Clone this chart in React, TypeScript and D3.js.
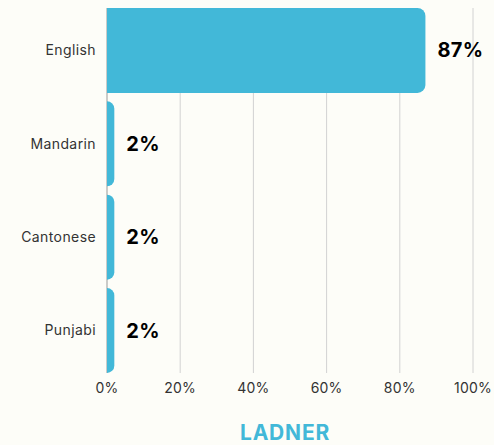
import React from 'react';
import * as d3 from 'd3';

const languages = ['English', 'Mandarin', 'Cantonese', 'Punjabi'];
const shares = [87, 2, 2, 2];
const ticks = [0, 20, 40, 60, 80, 100];
const title = 'LADNER';

const width = 494;
const height = 445;
const margin = { top: 8, right: 21, bottom: 72, left: 107 };
const barColor = '#42b8d8';
const font = 'Inter, "Open Sans", sans-serif';

function barPath(x0: number, y0: number, w: number, h: number, r: number) {
  const rr = Math.min(r, w, h / 2);
  const p = d3.path();
  p.moveTo(x0, y0);
  p.lineTo(x0 + w - rr, y0);
  p.arcTo(x0 + w, y0, x0 + w, y0 + rr, rr);
  p.lineTo(x0 + w, y0 + h - rr);
  p.arcTo(x0 + w, y0 + h, x0 + w - rr, y0 + h, rr);
  p.lineTo(x0, y0 + h);
  p.closePath();
  return p.toString();
}

export default function App() {
  const x = d3.scaleLinear().domain([0, 100]).range([margin.left, width - margin.right]);
  const y = d3
    .scaleBand<string>()
    .domain(languages)
    .range([margin.top, height - margin.bottom])
    .paddingInner(0.09)
    .paddingOuter(0.0);
  const [yTop, yBottom] = [margin.top, height - margin.bottom];

  return (
    <svg
      width={width}
      height={height}
      style={{ position: 'absolute', left: 0, top: 0, background: '#fdfdf8' }}
    >
      <rect width={width} height={height} fill="#fdfdf8" />
      {ticks.slice(1).map(t => (
        <line key={t} x1={x(t)} x2={x(t)} y1={yTop} y2={yBottom} stroke="#d2d2d2" strokeWidth={1} />
      ))}
      <line x1={x(0)} x2={x(0)} y1={yTop} y2={yBottom} stroke="#999" strokeWidth={1} />
      {languages.map((lang, i) => {
        const by = y(lang)!;
        const bw = x(shares[i]) - x(0);
        return (
          <g key={lang}>
            <path d={barPath(x(0), by, bw, y.bandwidth(), 8)} fill={barColor} />
            <text
              x={x(shares[i]) + 12}
              y={by + y.bandwidth() / 2}
              dy="0.35em"
              fontFamily={font}
              fontWeight={700}
              fontSize={20}
              letterSpacing={0.3}
              fill="#000"
            >
              {shares[i]}%
            </text>
            <text
              x={margin.left - 11}
              y={by + y.bandwidth() / 2}
              dy="0.35em"
              textAnchor="end"
              fontFamily={font}
              fontSize={14}
              letterSpacing={0.4}
              fill="#333"
            >
              {lang}
            </text>
          </g>
        );
      })}
      {ticks.map(t => (
        <text
          key={t}
          x={x(t)}
          y={yBottom + 15}
          dy="0.35em"
          textAnchor="middle"
          fontFamily={font}
          fontSize={14}
          letterSpacing={0.2}
          fill="#333"
        >
          {t}%
        </text>
      ))}
      <text
        x={(x(0) + x(100)) / 2 - 5}
        y={433}
        dy="0.35em"
        textAnchor="middle"
        fontFamily={font}
        fontWeight={700}
        fontSize={21}
        letterSpacing={0.8}
        fill={barColor}
      >
        {title}
      </text>
    </svg>
  );
}
